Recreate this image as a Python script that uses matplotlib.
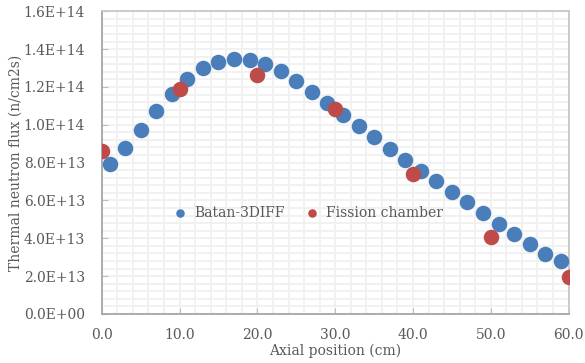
import numpy as np
import matplotlib.pyplot as plt
from matplotlib.ticker import FuncFormatter, MultipleLocator

# Batan-3DIFF calculation (every 2 cm)
calc_x = [1, 3, 5, 7, 9, 11, 13, 15, 17, 19, 21, 23, 25, 27, 29,
          31, 33, 35, 37, 39, 41, 43, 45, 47, 49, 51, 53, 55, 57, 59]
calc_flux = [7.94, 8.75, 9.74, 10.74, 11.62, 12.42, 12.98, 13.30, 13.48, 13.42,
             13.19, 12.84, 12.29, 11.75, 11.15, 10.53, 9.91, 9.33, 8.73, 8.15,
             7.57, 7.04, 6.46, 5.91, 5.33, 4.78, 4.25, 3.70, 3.19, 2.80]

# fission chamber measurement
meas_x = [0, 10, 20, 30, 40, 50, 60]
meas_flux = [8.64, 11.89, 12.63, 10.83, 7.41, 4.09, 1.97]

calc_flux = np.array(calc_flux) * 1e13
meas_flux = np.array(meas_flux) * 1e13

blue = '#4a7ebb'
red = '#be4b48'
text_col = '#595959'

plt.rcParams['font.family'] = 'DejaVu Serif'

fig = plt.figure(figsize=(5.85, 3.63), dpi=100)
ax = fig.add_axes([0.174, 0.135, 0.798, 0.834])

ax.scatter(calc_x, calc_flux, s=125, color=blue, label='Batan-3DIFF', zorder=3, linewidths=0)
ax.scatter(meas_x, meas_flux, s=125, color=red, label='Fission chamber', zorder=4, linewidths=0)

ax.set_xlim(0, 60)
ax.set_ylim(0, 1.6e14)
ax.xaxis.set_major_locator(MultipleLocator(10))
ax.xaxis.set_minor_locator(MultipleLocator(2))
ax.yaxis.set_major_locator(MultipleLocator(2e13))
ax.yaxis.set_minor_locator(MultipleLocator(4e12))
ax.xaxis.set_major_formatter(FuncFormatter(lambda v, p: '{:.1f}'.format(v)))
ax.yaxis.set_major_formatter(FuncFormatter(lambda v, p: '{:.1E}'.format(v)))

ax.grid(which='both', color='#f0f0f0', linewidth=1.3, zorder=0)
ax.set_axisbelow(True)
ax.tick_params(which='major', direction='in', length=4, color='#bfbfbf',
               labelsize=10, labelcolor=text_col)
ax.tick_params(axis='x', which='major', pad=10)
ax.tick_params(axis='y', which='major', pad=12)
ax.tick_params(which='minor', length=0)
for side in ['top', 'right']:
    ax.spines[side].set_color('#c8c8c8')
for side in ['left', 'bottom']:
    ax.spines[side].set_color('#a6a6a6')
for sp in ax.spines.values():
    sp.set_linewidth(1.3)

ax.set_xlabel('Axial position (cm)', fontsize=10, color=text_col, labelpad=1)
ax.set_ylabel('Thermal neutron flux (n/cm2s)', fontsize=10, color=text_col, labelpad=1)

leg = ax.legend(loc='center', bbox_to_anchor=(0.435, 0.335), ncol=2, frameon=False,
                fontsize=10, markerscale=0.55, handletextpad=0.0, columnspacing=1.0)
for t in leg.get_texts():
    t.set_color(text_col)

plt.savefig('out.png')
